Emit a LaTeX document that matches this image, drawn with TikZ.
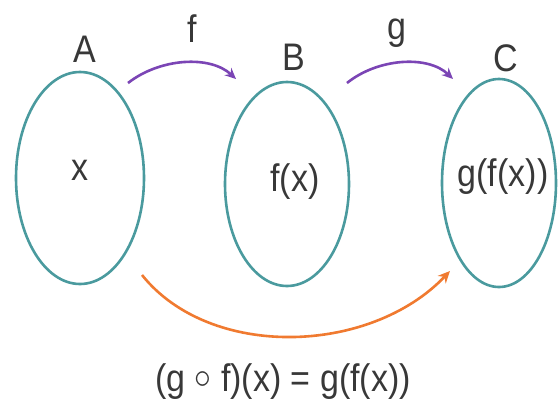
\documentclass[tikz,border=0pt]{standalone}
\usepackage{fontspec}
\setmainfont{Liberation Sans}
\usetikzlibrary{arrows.meta,shapes.geometric}
\definecolor{teal1}{HTML}{4A9A9E}
\definecolor{purp}{HTML}{7B45B5}
\definecolor{oran}{HTML}{F07A30}
\definecolor{txt}{HTML}{383838}
\newcommand{\tallt}[1]{\scalebox{1}[1.13]{#1}}
\begin{document}
\begin{tikzpicture}[x=1pt,y=-1pt,
  setov/.style={draw=teal1,line width=2.6pt,ellipse,minimum width=#1},
  lbl/.style={text=txt,font=\fontsize{34}{40}\selectfont,inner sep=0pt},
  fmap/.style={draw=purp,line width=2.6pt,-{Stealth[length=11pt,width=10pt]}},
  comp/.style={draw=oran,line width=2.6pt,-{Stealth[length=12pt,width=11pt]}}]
\useasboundingbox (0,0) rectangle (560,408);
\node[setov=128pt,minimum height=212pt] (A) at (80,178) {};
\node[setov=124pt,minimum height=204pt] (B) at (287,184) {};
\node[setov=114pt,minimum height=208pt] (C) at (499,183) {};
\node[lbl] (la) at (85,49) {\tallt{A}};
\node[lbl] (lb) at (294,57) {\tallt{B}};
\node[lbl] (lc) at (506,58) {\tallt{C}};
\node[lbl] (xa) at (80,170) {\tallt{x}};
\node[lbl] (xb) at (295,182) {\tallt{f(x)}};
\node[lbl] (xc) at (503,177) {\tallt{g(f(x))}};
\node[lbl] (lf) at (192,29) {\tallt{f}};
\node[lbl] (lg) at (397,33) {\tallt{g}};
\coordinate (f1) at (128,83);
\coordinate (f2) at (236,79);
\coordinate (g1) at (347,83);
\coordinate (g2) at (453,79);
\coordinate (o1) at (142,275);
\coordinate (o2) at (450,271);
\draw[fmap] (f1) .. controls (160,58) and (210,55) .. (f2);
\draw[fmap] (g1) .. controls (378,58) and (428,55) .. (g2);
\draw[comp] (o1) .. controls (210,360) and (370,355) .. (o2);
\node[lbl] (eq) at (283,382) {\tallt{(g \raisebox{0.1em}{\scalebox{1.35}{$\circ$}} f)(x) = g(f(x))}};
\end{tikzpicture}
\end{document}
